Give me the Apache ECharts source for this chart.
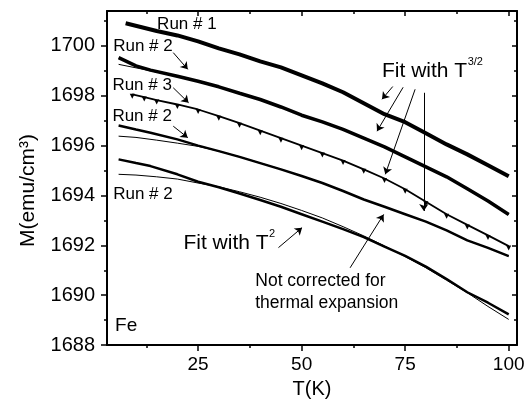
<!DOCTYPE html>
<html>
<head>
<meta charset="utf-8">
<script src="https://cdn.jsdelivr.net/npm/echarts@6/dist/echarts.min.js"></script>
<style>
html,body{margin:0;padding:0;background:#fff;}
#chart{width:530px;height:404px;}
</style>
</head>
<body>
<div id="chart"></div>
<script>
// ---- data ----
const xMajorTicks = [25, 50, 75, 100];
const xMinorTicks = [12.5, 37.5, 62.5, 87.5];
const yMajorTicks = [1688, 1690, 1692, 1694, 1696, 1698, 1700];
const yMinorTicks = [1689, 1691, 1693, 1695, 1697, 1699, 1701];

const tempRun1 = [7.5, 15, 20, 25, 30, 35, 40, 45, 50, 55, 60, 65, 70, 75, 80, 85, 90, 95, 100];
const magRun1 = [1700.91, 1700.60, 1700.42, 1700.18, 1699.90, 1699.66, 1699.38, 1699.14, 1698.82, 1698.50, 1698.14, 1697.70, 1697.26, 1696.94, 1696.50, 1696.05, 1695.65, 1695.21, 1694.77];

const tempRun2a = [5.8, 10, 13.5, 20, 25, 30, 35, 40, 45, 50, 55, 60, 65, 70, 75, 80, 85, 90, 95, 100];
const magRun2a = [1699.53, 1699.20, 1699.03, 1698.78, 1698.58, 1698.36, 1698.10, 1697.85, 1697.55, 1697.22, 1696.95, 1696.65, 1696.30, 1695.95, 1695.55, 1695.15, 1694.75, 1694.27, 1693.78, 1693.24];

const tempRun3 = [9.1, 12, 15, 20, 25, 30, 35, 40, 45, 50, 55, 60, 65, 70, 75, 80, 85, 90, 95, 100];
const magRun3 = [1698.06, 1697.95, 1697.83, 1697.65, 1697.45, 1697.18, 1696.90, 1696.60, 1696.30, 1696.00, 1695.70, 1695.40, 1695.05, 1694.68, 1694.25, 1693.75, 1693.25, 1692.82, 1692.40, 1691.97];

const tempRun2b = [5.8, 10, 13.5, 20, 25, 30, 35, 40, 45, 50, 55, 60, 65, 70, 75, 80, 85, 90, 95, 100];
const magRun2b = [1696.81, 1696.65, 1696.52, 1696.25, 1696.00, 1695.78, 1695.55, 1695.30, 1695.05, 1694.78, 1694.50, 1694.18, 1693.84, 1693.55, 1693.25, 1692.95, 1692.60, 1692.20, 1691.90, 1691.57];

const tempRun2c = [5.8, 10, 13.5, 20, 25, 30, 35, 40, 45, 50, 55, 60, 65, 70, 75, 80, 85, 90, 95, 100];
const magRun2c = [1695.45, 1695.30, 1695.18, 1694.85, 1694.55, 1694.33, 1694.08, 1693.82, 1693.55, 1693.25, 1692.95, 1692.65, 1692.33, 1691.95, 1691.58, 1691.15, 1690.65, 1690.12, 1689.70, 1689.23];

const tempFit = [5.8, 10, 15, 20, 25, 30, 35, 40, 45, 50, 55, 60, 65, 70, 75, 80, 85, 90, 95, 100];
const fitRun2a = [1699.26, 1699.12, 1698.95, 1698.78, 1698.58, 1698.36, 1698.10, 1697.85, 1697.55, 1697.22, 1696.95, 1696.65, 1696.30, 1695.95, 1695.55, 1695.15, 1694.75, 1694.27, 1693.78, 1693.24];
const fitRun2b = [1696.38, 1696.33, 1696.22, 1696.10, 1695.97, 1695.78, 1695.55, 1695.30, 1695.05, 1694.78, 1694.50, 1694.18, 1693.84, 1693.55, 1693.25, 1692.95, 1692.60, 1692.20, 1691.90, 1691.57];
const fitRun2cT2 = [1694.85, 1694.82, 1694.75, 1694.66, 1694.50, 1694.35, 1694.15, 1693.93, 1693.68, 1693.40, 1693.10, 1692.75, 1692.38, 1691.98, 1691.55, 1691.10, 1690.60, 1690.10, 1689.55, 1689.03];

// ---- annotations (data coordinates) ----
const arrows = [
  [[19.0, 1699.73], [22.5, 1699.06]],
  [[19.0, 1698.32], [22.7, 1697.72]],
  [[19.0, 1696.78], [22.5, 1696.32]],
  [[72.0, 1698.37], [69.4, 1697.86]],
  [[74.5, 1698.34], [68.2, 1696.58]],
  [[77.4, 1698.26], [70.2, 1694.85]],
  [[79.5, 1698.12], [79.5, 1693.38]],
  [[44.4, 1691.91], [50.1, 1692.71]],
  [[61.7, 1691.10], [69.8, 1693.24]]
];
const labels = [
  {pos: [15.1, 1700.86], text: 'Run # 1', size: 17},
  {pos: [4.5, 1699.99], text: 'Run # 2', size: 17},
  {pos: [4.3, 1698.42], text: 'Run # 3', size: 17},
  {pos: [4.3, 1697.19], text: 'Run # 2', size: 17},
  {pos: [4.5, 1694.04], text: 'Run # 2', size: 17},
  {pos: [69.4, 1698.99], text: 'Fit with T', sup: '3/2', size: 21},
  {pos: [21.45, 1692.08], text: 'Fit with T', sup: '2', size: 21},
  {pos: [38.8, 1690.57], text: 'Not corrected for', size: 17.5},
  {pos: [38.8, 1689.70], text: 'thermal expansion', size: 17.5},
  {pos: [4.95, 1688.76], text: 'Fe', size: 19}
];
const yTitle = {pos: [-16.1, 1694.2], text: 'M(emu/cm³)', size: 21};

const FONT = '"Liberation Sans", Arial, Helvetica, sans-serif';
const pairs = (xs, ys) => xs.map((x, i) => [x, ys[i]]);
const plain = (v) => String(v);

const chart = echarts.init(document.getElementById('chart'), null, {renderer: 'canvas'});

function xAx(pos, ticks, len, inside, showLine, showLabel, extra) {
  return Object.assign({
    type: 'value', min: 3, max: 102, position: pos,
    axisLine: {show: showLine, onZero: false, lineStyle: {color: '#000', width: 2}},
    axisTick: {show: true, inside: inside, length: len, customValues: ticks, lineStyle: {color: '#000', width: 1.5}},
    axisLabel: {show: showLabel, customValues: ticks, formatter: plain, margin: 10, fontSize: 19, color: '#000', fontFamily: FONT},
    splitLine: {show: false}
  }, extra || {});
}
function yAx(pos, ticks, len, inside, showLine, showLabel, extra) {
  return Object.assign({
    type: 'value', min: 1688, max: 1701.4, position: pos,
    axisLine: {show: showLine, onZero: false, lineStyle: {color: '#000', width: 2}},
    axisTick: {show: true, inside: inside, length: len, customValues: ticks, lineStyle: {color: '#000', width: 1.5}},
    axisLabel: {show: showLabel, customValues: ticks, formatter: plain, margin: 12, fontSize: 20, color: '#000', fontFamily: FONT},
    splitLine: {show: false}
  }, extra || {});
}

const thick = (w) => ({color: '#000', width: w});

const option = {
  animation: false,
  backgroundColor: '#fff',
  grid: {left: 107, right: 13, top: 11, bottom: 58},
  xAxis: [
    xAx('bottom', xMajorTicks, 6, false, true, true, {
      name: 'T(K)', nameLocation: 'middle', nameGap: 31,
      nameTextStyle: {fontSize: 20, color: '#000', fontFamily: FONT}
    }),
    xAx('bottom', xMinorTicks, 3, false, false, false),
    xAx('top', xMajorTicks, 5, true, true, false),
    xAx('top', xMinorTicks, 3, true, false, false)
  ],
  yAxis: [
    yAx('left', yMajorTicks, 6, false, true, true),
    yAx('left', yMinorTicks, 3, false, false, false),
    yAx('right', yMajorTicks, 5, true, true, false),
    yAx('right', yMinorTicks, 3, true, false, false)
  ],
  series: [
    {type: 'line', name: 'Run 1', data: pairs(tempRun1, magRun1), showSymbol: false, lineStyle: thick(4), silent: true,
     markLine: {silent: true, symbol: ['none', 'arrow'], symbolSize: 7, label: {show: false},
       lineStyle: {color: '#000', width: 1, type: 'solid'},
       data: arrows.map(a => [{coord: a[0]}, {coord: a[1]}])}},
    {type: 'line', name: 'Run 2a', data: pairs(tempRun2a, magRun2a), showSymbol: false, lineStyle: thick(3.5), silent: true},
    {type: 'line', name: 'Fit 2a', data: pairs(tempFit, fitRun2a), showSymbol: false, lineStyle: thick(1), silent: true},
    {type: 'line', name: 'Run 3', data: pairs(tempRun3, magRun3), symbol: 'triangle', symbolSize: 5, symbolRotate: 180, symbolOffset: [0, 2],
     itemStyle: {color: '#000'}, lineStyle: thick(1.8), silent: true},
    {type: 'line', name: 'Run 2b', data: pairs(tempRun2b, magRun2b), showSymbol: false, lineStyle: thick(2.5), silent: true},
    {type: 'line', name: 'Fit 2b', data: pairs(tempFit, fitRun2b), showSymbol: false, lineStyle: thick(1), silent: true},
    {type: 'line', name: 'Run 2c', data: pairs(tempRun2c, magRun2c), showSymbol: false, lineStyle: thick(2.5), silent: true},
    {type: 'line', name: 'Fit T2', data: pairs(tempFit, fitRun2cT2), showSymbol: false, lineStyle: thick(1), silent: true}
  ]
};
chart.setOption(option);

const measureCtx = document.createElement('canvas').getContext('2d');
const graphics = [];
labels.forEach(l => {
  const p = chart.convertToPixel({xAxisIndex: 0, yAxisIndex: 0}, l.pos);
  graphics.push({
    type: 'text', x: p[0], y: p[1], silent: true,
    style: {text: l.text, fill: '#000', fontSize: l.size, fontFamily: FONT, align: 'left', verticalAlign: 'middle'}
  });
  if (l.sup) {
    measureCtx.font = l.size + 'px ' + FONT;
    const w = measureCtx.measureText(l.text).width;
    graphics.push({
      type: 'text', x: p[0] + w + 0.5, y: p[1] - 9.5, silent: true,
      style: {text: l.sup, fill: '#000', fontSize: 11, fontFamily: FONT, align: 'left', verticalAlign: 'middle'}
    });
  }
});
const tp = chart.convertToPixel({xAxisIndex: 0, yAxisIndex: 0}, yTitle.pos);
graphics.push({
  type: 'text', x: tp[0], y: tp[1], rotation: Math.PI / 2, silent: true,
  style: {text: yTitle.text, fill: '#000', fontSize: yTitle.size, fontFamily: FONT, align: 'center', verticalAlign: 'middle'}
});
chart.setOption({graphic: graphics});
</script>
</body>
</html>
